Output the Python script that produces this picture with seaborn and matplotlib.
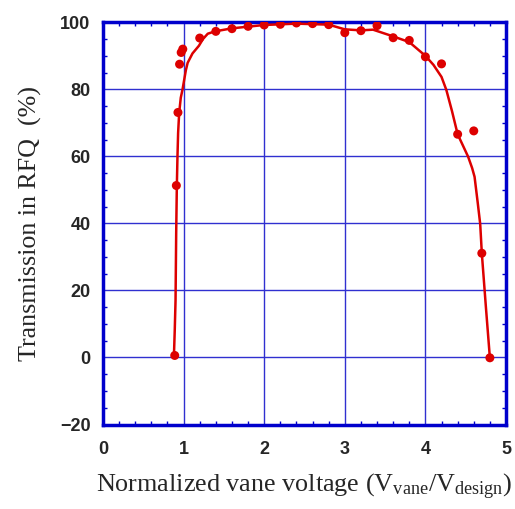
import matplotlib
matplotlib.use("Agg")
import matplotlib.pyplot as plt
from matplotlib.ticker import MultipleLocator
import seaborn as sns
import pandas as pd

# Measured transmission vs normalized vane voltage
volt = [0.89, 0.91, 0.93, 0.95, 0.97, 0.99, 1.2, 1.4, 1.6, 1.8, 2.0, 2.2, 2.4,
        2.6, 2.8, 3.0, 3.2, 3.4, 3.6, 3.8, 4.0, 4.2, 4.4, 4.6, 4.7, 4.8]
trans = [0.6, 51.3, 73.1, 87.5, 91.0, 92.0, 95.3, 97.3, 98.1, 98.8, 99.2, 99.4,
         99.8, 99.6, 99.3, 96.9, 97.5, 99.0, 95.4, 94.6, 89.7, 87.6, 66.6, 67.6,
         31.1, -0.1]

# Smooth guide curve through the measurements
fit_v = [0.88, 0.89, 0.90, 0.908, 0.916, 0.924, 0.932, 0.945, 0.965, 0.987,
         1.028, 1.05, 1.11, 1.19, 1.24, 1.30, 1.39, 1.6, 2.0, 2.4, 2.8, 3.0,
         3.2, 3.35, 3.6, 3.8, 4.0, 4.1, 4.2, 4.26, 4.33, 4.40, 4.47, 4.53,
         4.58, 4.61, 4.65, 4.68, 4.70, 4.75, 4.80]
fit_t = [0.5, 8.0, 17.0, 37.0, 51.0, 60.0, 67.0, 73.0, 77.5, 80.0,
         85.7, 87.9, 90.7, 93.0, 95.0, 96.6, 97.3, 98.2, 99.2, 99.6, 99.3, 97.9,
         97.6, 97.8, 95.8, 94.1, 90.0, 87.3, 83.7, 79.8, 73.5, 66.6, 63.0, 59.9,
         56.5, 53.9, 46.0, 39.8, 31.1, 15.2, -0.1]

x_ticks = [0, 1, 2, 3, 4, 5]
y_ticks = [-20, 0, 20, 40, 60, 80, 100]

sns.set_style("white")
plt.rcParams["font.family"] = ["Liberation Sans", "DejaVu Sans"]

blue = "#0000CC"
grid_blue = "#3030D0"
red = "#DD0000"

fig = plt.figure(figsize=(5.15, 5.09), dpi=100)
ax = fig.add_axes([103 / 515, 1 - 424.5 / 509, (506 - 103) / 515, (424.5 - 22.3) / 509])

meas = pd.DataFrame({"v": volt, "t": trans})
fit = pd.DataFrame({"v": fit_v, "t": fit_t})

sns.lineplot(data=fit, x="v", y="t", sort=False, color=red, lw=1.8, ax=ax, zorder=3)
sns.scatterplot(data=meas, x="v", y="t", color=red, s=42, edgecolor="none", ax=ax, zorder=4)

ax.set_xlim(0, 5)
ax.set_ylim(-20, 100)
ax.set_xticks(x_ticks)
ax.set_yticks(y_ticks)
ax.set_xticklabels([str(v) for v in x_ticks])
ax.set_yticklabels([str(v).replace("-", "\u2212") for v in y_ticks])
ax.xaxis.set_minor_locator(MultipleLocator(0.2))
ax.yaxis.set_minor_locator(MultipleLocator(5))

ax.grid(True, which="major", color=grid_blue, lw=1.0)
ax.set_axisbelow(True)
for s in ax.spines.values():
    s.set_color(blue)
    s.set_linewidth(2.5)

ax.tick_params(which="major", direction="in", length=0, top=True, right=True)
ax.tick_params(which="minor", direction="in", length=3, width=1, color=blue,
               top=True, right=True, bottom=True, left=True)
ax.tick_params(axis="x", which="major", pad=12, labelsize=13)
ax.tick_params(axis="y", which="major", pad=9, labelsize=13)
for lab in ax.get_xticklabels() + ax.get_yticklabels():
    lab.set_fontweight("bold")

serif_family = ["Liberation Serif", "DejaVu Serif"]
ax.set_xlabel(r"Normalized vane voltage $\mathregular{(V_{vane}/V_{design})}$",
              family=serif_family, size=18.8, labelpad=10)
ax.set_ylabel("Transmission in RFQ  (%)", family=serif_family, size=18.7,
              labelpad=13)

fig.savefig("out.png", dpi=100)
